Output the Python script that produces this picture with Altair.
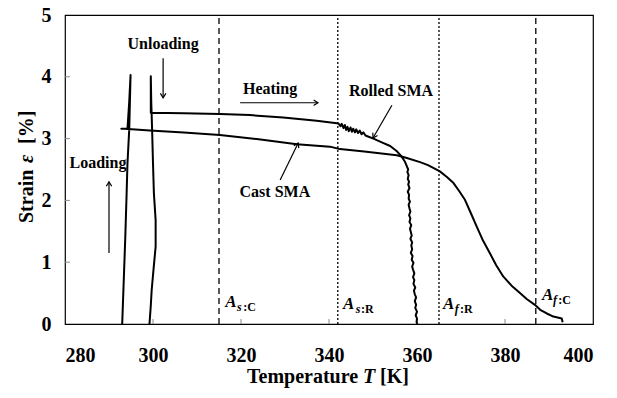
import altair as alt
import pandas as pd

# ---------------- data ----------------
# Cast SMA: loading, unloading, heating
cast_T = [293.0, 293.3, 293.7, 294.0, 294.2, 294.6, 294.9, 294.6, 294.2, 292.8, 293.5,
          299.3, 307.0, 315.2, 324.0, 332.7, 340.2, 342.5, 348.0, 355.4, 357.5, 360.7,
          362.5, 365.2, 366.8, 368.3, 369.5, 370.9, 372.2, 373.6, 375.0, 376.6, 378.0,
          379.6, 381.5, 383.4, 385.0, 386.8, 388.0, 389.5, 391.0, 392.9, 393.1]
cast_e = [0.00, 0.60, 1.40, 2.10, 2.60, 3.15, 4.03, 3.60, 3.16, 3.16, 3.16,
          3.13, 3.10, 3.06, 2.99, 2.91, 2.87, 2.83, 2.79, 2.73, 2.69, 2.62,
          2.57, 2.47, 2.38, 2.28, 2.16, 2.01, 1.80, 1.57, 1.35, 1.14, 0.95,
          0.77, 0.62, 0.50, 0.40, 0.31, 0.23, 0.17, 0.12, 0.09, 0.03]

# Rolled SMA: loading, unloading, heating, noisy recovery
rolled_T = [299.2, 299.5, 299.7, 300.2, 300.6, 300.6, 300.2, 300.0, 299.8, 299.6, 299.5,
            299.5, 299.5, 307.0, 315.2, 322.0, 329.6, 337.2, 341.8,
            342.2, 342.6, 342.9, 343.3, 343.6, 343.9, 344.2, 344.5, 344.9, 345.2,
            345.5, 345.9, 346.2, 346.6, 347.0, 347.4, 347.8, 348.3, 349.0,
            350.1, 352.0, 353.9, 355.5, 356.5, 357.3,
            357.7, 358.0, 357.8, 358.1, 357.9, 358.2, 358.0, 358.3, 357.9, 358.2,
            358.1, 358.4, 358.1, 358.3, 358.5, 358.2, 358.5, 358.3, 358.7, 358.4,
            358.6, 358.8, 358.5, 358.9, 358.7, 358.9, 358.6, 359.0, 358.8, 359.2,
            358.9, 359.1, 359.4, 359.1, 359.4, 359.2, 359.6, 359.3, 359.5, 359.8,
            359.5, 359.8, 359.6, 360.0, 359.7, 360.0, 359.9, 360.1]
rolled_e = [0.00, 0.30, 0.55, 0.95, 1.25, 1.68, 2.12, 2.60, 3.14, 3.60, 4.01,
            3.70, 3.42, 3.41, 3.40, 3.38, 3.34, 3.29, 3.25,
            3.24, 3.20, 3.24, 3.17, 3.22, 3.14, 3.19, 3.12, 3.18, 3.11,
            3.16, 3.10, 3.15, 3.09, 3.13, 3.07, 3.10, 3.05, 3.03,
            3.00, 2.94, 2.88, 2.79, 2.71, 2.62,
            2.55, 2.50, 2.46, 2.41, 2.35, 2.30, 2.26, 2.20, 2.14, 2.09,
            2.03, 1.98, 1.93, 1.87, 1.82, 1.76, 1.71, 1.65, 1.60, 1.54,
            1.49, 1.43, 1.38, 1.32, 1.27, 1.21, 1.15, 1.10, 1.04, 0.99,
            0.93, 0.88, 0.82, 0.76, 0.71, 0.65, 0.59, 0.54, 0.48, 0.43,
            0.37, 0.31, 0.26, 0.20, 0.14, 0.09, 0.03, 0.00]

# transformation temperatures (dashed lines)
cast_lines_T = [315, 387]
rolled_lines_T = [342, 365]

# axis ticks
x_ticks = [280, 300, 320, 340, 360, 380, 400]
y_ticks = [0, 1, 2, 3, 4, 5]

# annotation texts (x, y in data units)
note_text = ["Unloading", "Heating", "Rolled SMA", "Cast SMA", "Loading"]
note_x = [302.3, 326.6, 354.1, 327.7, 287.5]
note_y = [4.53, 3.80, 3.77, 2.14, 2.61]

# arrows: start -> end (data units), head angle (deg, clockwise from up)
arrow_x1 = [302.3, 319.8, 354.3, 328.9, 290.0]
arrow_y1 = [4.30, 3.58, 3.54, 2.33, 1.15]
arrow_x2 = [302.3, 337.5, 350.0, 333.0, 290.0]
arrow_y2 = [3.66, 3.58, 3.01, 2.93, 2.30]
arrow_angle = [180, 90, 210, 26, 0]

# A-labels: "A" + subscript parts
lab_A_x = [316.4, 343.2, 365.9, 388.4]
lab_A_y = [0.36, 0.32, 0.32, 0.47]
lab_sub1 = ["s", "s", "f", "f"]
lab_sub1_x = [319.1, 346.1, 368.6, 390.9]
lab_sub2 = [":C", ":R", ":R", ":C"]
lab_sub2_x = [320.5, 347.3, 369.8, 392.1]
lab_sub_y = [0.27, 0.25, 0.25, 0.39]

# ---------------- build tables ----------------
curves = pd.concat([
    pd.DataFrame({"T": cast_T, "e": cast_e, "series": "Cast SMA", "order": range(len(cast_T))}),
    pd.DataFrame({"T": rolled_T, "e": rolled_e, "series": "Rolled SMA", "order": range(len(rolled_T))}),
])
cast_lines = pd.DataFrame({"T": cast_lines_T, "y0": 0, "y1": 5})
rolled_lines = pd.DataFrame({"T": rolled_lines_T, "y0": 0, "y1": 5})
notes = pd.DataFrame({"x": note_x, "y": note_y, "text": note_text})
arrows = pd.DataFrame({"x1": arrow_x1, "y1": arrow_y1, "x2": arrow_x2, "y2": arrow_y2, "ang": arrow_angle})
labA = pd.DataFrame({"x": lab_A_x, "y": lab_A_y, "text": ["A"] * 4})
labS1 = pd.DataFrame({"x": lab_sub1_x, "y": lab_sub_y, "text": lab_sub1})
labS2 = pd.DataFrame({"x": lab_sub2_x, "y": lab_sub_y, "text": lab_sub2})
xtk = pd.DataFrame({"T": x_ticks[1:-1], "y0": 0, "y1": 0.08})
ytk = pd.DataFrame({"e": y_ticks[1:-1], "x0": 280, "x1": 281.1})

FONT = "Liberation Serif"
W, H = 528, 309

xs = alt.Scale(domain=[280, 400], nice=False, zero=False)
ys = alt.Scale(domain=[0, 5], nice=False)

x_axis = alt.Axis(values=x_ticks, title=None, grid=False, ticks=False, domain=False, format="d",
                  labelFont=FONT, labelFontWeight="bold", labelFontSize=20,
                  labelColor="black", labelPadding=21)
y_axis = alt.Axis(values=y_ticks, title=None, grid=False, ticks=False, domain=False, format="d",
                  labelFont=FONT, labelFontWeight="bold", labelFontSize=20,
                  labelColor="black", labelPadding=14)

lines = alt.Chart(curves).mark_line(color="black", strokeWidth=2, strokeJoin="round").encode(
    x=alt.X("T:Q", scale=xs, axis=x_axis),
    y=alt.Y("e:Q", scale=ys, axis=y_axis),
    detail="series:N",
    order="order:Q",
)

cast_dash = alt.Chart(cast_lines).mark_rule(color="black", strokeWidth=1.3, strokeDash=[6, 4]).encode(
    x=alt.X("T:Q", scale=xs), y=alt.Y("y0:Q", scale=ys), y2="y1:Q")
rolled_dash = alt.Chart(rolled_lines).mark_rule(color="black", strokeWidth=1.3, strokeDash=[2, 2]).encode(
    x=alt.X("T:Q", scale=xs), y=alt.Y("y0:Q", scale=ys), y2="y1:Q")

xticks = alt.Chart(xtk).mark_rule(color="#888", strokeWidth=1).encode(
    x=alt.X("T:Q", scale=xs), y=alt.Y("y0:Q", scale=ys), y2="y1:Q")
yticks = alt.Chart(ytk).mark_rule(color="#888", strokeWidth=1).encode(
    y=alt.Y("e:Q", scale=ys), x=alt.X("x0:Q", scale=xs), x2="x1:Q")

note_marks = alt.Chart(notes).mark_text(font=FONT, fontWeight="bold", fontSize=16,
                                        color="black", baseline="middle", align="center").encode(
    x=alt.X("x:Q", scale=xs), y=alt.Y("y:Q", scale=ys), text="text:N")

shafts = alt.Chart(arrows).mark_rule(color="black", strokeWidth=1.2).encode(
    x=alt.X("x1:Q", scale=xs), y=alt.Y("y1:Q", scale=ys), x2="x2:Q", y2="y2:Q")
heads = alt.Chart(arrows).mark_point(shape="M -1 1.6 L 0 0 L 1 1.6", filled=False,
                                     color="black", strokeWidth=1.2, size=30, opacity=1).encode(
    x=alt.X("x2:Q", scale=xs), y=alt.Y("y2:Q", scale=ys), angle=alt.Angle("ang:Q", scale=None))

a_marks = alt.Chart(labA).mark_text(font=FONT, fontStyle="italic", fontWeight="bold", fontSize=17,
                                    color="black", baseline="middle", align="left").encode(
    x=alt.X("x:Q", scale=xs), y=alt.Y("y:Q", scale=ys), text="text:N")
s1_marks = alt.Chart(labS1).mark_text(font=FONT, fontStyle="italic", fontWeight="bold", fontSize=12,
                                      color="black", baseline="middle", align="left").encode(
    x=alt.X("x:Q", scale=xs), y=alt.Y("y:Q", scale=ys), text="text:N")
s2_marks = alt.Chart(labS2).mark_text(font=FONT, fontWeight="bold", fontSize=12,
                                      color="black", baseline="middle", align="left").encode(
    x=alt.X("x:Q", scale=xs), y=alt.Y("y:Q", scale=ys), text="text:N")

# axis titles built from text pieces (mixed italic)
xt_df = pd.DataFrame({"text": ["Temperature", "T", "[K]"], "px": [182, 298, 315],
                      "sty": ["normal", "italic", "normal"]})
xtitle_n = alt.Chart(xt_df[xt_df.sty == "normal"]).mark_text(
    font=FONT, fontWeight="bold", fontSize=20, color="black", baseline="middle", align="left").encode(
    x=alt.X("px:Q", scale=None), y=alt.value(362), text="text:N")
xtitle_i = alt.Chart(xt_df[xt_df.sty == "italic"]).mark_text(
    font=FONT, fontWeight="bold", fontStyle="italic", fontSize=20, color="black",
    baseline="middle", align="left").encode(
    x=alt.X("px:Q", scale=None), y=alt.value(362), text="text:N")

yt_df = pd.DataFrame({"text": ["Strain", "ε", "[%]"], "py": [208, 148, 129],
                      "sty": ["normal", "italic", "normal"]})
ytitle_n = alt.Chart(yt_df[yt_df.sty == "normal"]).mark_text(
    font=FONT, fontWeight="bold", fontSize=20, color="black", baseline="middle", align="left",
    angle=270).encode(x=alt.value(-38), y=alt.Y("py:Q", scale=None), text="text:N")
ytitle_i = alt.Chart(yt_df[yt_df.sty == "italic"]).mark_text(
    font=FONT, fontWeight="bold", fontStyle="italic", fontSize=20, color="black", baseline="middle",
    align="left", angle=270).encode(x=alt.value(-38), y=alt.Y("py:Q", scale=None), text="text:N")

chart = alt.layer(
    cast_dash, rolled_dash, xticks, yticks, lines, shafts, heads, note_marks,
    a_marks, s1_marks, s2_marks, xtitle_n, xtitle_i, ytitle_n, ytitle_i,
).resolve_scale(x="shared", y="shared").properties(
    width=W, height=H,
    autosize=alt.AutoSizeParams(type="none"),
    padding={"left": 57, "top": 7, "right": 16, "bottom": 66},
    background="white",
).configure_view(stroke="black", strokeWidth=1.2)

chart.save("out.html", embed_options={"renderer": "svg", "actions": False})
